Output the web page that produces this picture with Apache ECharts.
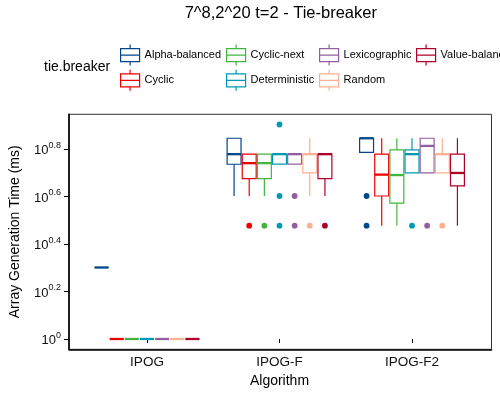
<!DOCTYPE html>
<html><head><meta charset="utf-8">
<script src="https://cdn.jsdelivr.net/npm/echarts@6/dist/echarts.min.js"></script>
<style>html,body{margin:0;padding:0;background:#fff}#c{width:500px;height:400px}</style>
</head><body><div id="c"></div>
<script>
const algorithms = ['IPOG', 'IPOG-F', 'IPOG-F2'];
const tieBreakers = ['Alpha-balanced', 'Cyclic', 'Cyclic-next', 'Deterministic', 'Lexicographic', 'Random', 'Value-balanced'];
const colors = ['#00468B', '#ED0000', '#42B540', '#0099B4', '#925E9F', '#FDAF91', '#AD002A'];

// Five-number summaries in ms [min, q1, median, q3, max], one per algorithm
const alphaBalanced = [[2, 2, 2, 2, 2], [4, 5.44, 6, 7, 7], [6.11, 6.11, 7, 7, 7]];
const cyclic        = [[1, 1, 1, 1, 1], [4, 4.73, 5.5, 6, 6], [3, 4, 4.92, 6, 7]];
const cyclicNext    = [[1, 1, 1, 1, 1], [4, 4.73, 5.5, 6, 6], [3, 3.73, 4.9, 6.25, 7]];
const deterministic = [[1, 1, 1, 1, 1], [5.45, 5.45, 6, 6, 6], [5, 5, 6, 6.25, 7]];
const lexicographic = [[1, 1, 1, 1, 1], [5.45, 5.45, 6, 6, 6], [5, 5, 6.5, 7, 7]];
const random        = [[1, 1, 1, 1, 1], [4, 5, 6, 6, 7], [5, 5, 6, 6, 7]];
const valueBalanced = [[1, 1, 1, 1, 1], [4, 4.73, 6, 6, 6], [3, 4.41, 5, 6, 7]];

// Outliers in ms, one list per algorithm
const alphaBalancedOut = [[], [], [4, 3]];
const cyclicOut        = [[], [3], []];
const cyclicNextOut    = [[], [3], []];
const deterministicOut = [[], [8, 4, 3], [3]];
const lexicographicOut = [[], [4, 3], [3]];
const randomOut        = [[], [3], [3]];
const valueBalancedOut = [[], [3], []];

// y axis ticks (log10 exponents) and their labels
const yTicks = [0, 0.2, 0.4, 0.6, 0.8];
const yTickLabels = ['0', '0.2', '0.4', '0.6', '0.8'];

const summaries = [alphaBalanced, cyclic, cyclicNext, deterministic, lexicographic, random, valueBalanced];
const outliers = [alphaBalancedOut, cyclicOut, cyclicNextOut, deterministicOut, lexicographicOut, randomOut, valueBalancedOut];

const FONT = 'Liberation Sans, Arial, Helvetica, sans-serif';
const GROUP_FRAC = 0.8;
const BOX_FRAC = 0.92;
const N = tieBreakers.length;

function offsetX(api, cat, k) {
  const band = api.size([1, 0])[0];
  const slot = band * GROUP_FRAC / N;
  return { c: api.coord([cat, 0])[0] + (k - (N - 1) / 2) * slot, bw: slot * BOX_FRAC };
}

function boxRenderer(k) {
  return function (params, api) {
    const cat = api.value(0);
    const { c, bw } = offsetX(api, cat, k);
    const ys = [1, 2, 3, 4, 5].map(d => api.coord([cat, api.value(d)])[1]);
    const [yMin, yQ1, yMed, yQ3, yMax] = ys;
    const stroke = colors[k];
    return {
      type: 'group', children: [
        { type: 'line', shape: { x1: c, y1: yMax, x2: c, y2: yQ3 }, style: { stroke, lineWidth: 1.2 } },
        { type: 'line', shape: { x1: c, y1: yQ1, x2: c, y2: yMin }, style: { stroke, lineWidth: 1.2 } },
        { type: 'rect', shape: { x: c - bw / 2, y: yQ3, width: bw, height: yQ1 - yQ3 }, style: { fill: '#fff', stroke, lineWidth: 1.2 } },
        { type: 'line', shape: { x1: c - bw / 2, y1: yMed, x2: c + bw / 2, y2: yMed }, style: { stroke, lineWidth: 2.3 } }
      ]
    };
  };
}

function outlierRenderer(k) {
  return function (params, api) {
    const cat = api.value(0);
    const { c } = offsetX(api, cat, k);
    const y = api.coord([cat, api.value(1)])[1];
    return { type: 'circle', shape: { cx: c, cy: y, r: 2.9 }, style: { fill: colors[k] } };
  };
}

const series = [];
tieBreakers.forEach((name, k) => {
  series.push({
    type: 'custom', name, xAxisIndex: 0, yAxisIndex: 0,
    renderItem: boxRenderer(k),
    encode: { x: 0, y: [1, 2, 3, 4, 5] },
    data: algorithms.map((a, i) => [i].concat(summaries[k][i].map(v => Math.log10(v))))
  });
});
tieBreakers.forEach((name, k) => {
  const pts = [];
  algorithms.forEach((a, i) => outliers[k][i].forEach(v => pts.push([i, Math.log10(v)])));
  series.push({
    type: 'custom', name, xAxisIndex: 0, yAxisIndex: 0,
    renderItem: outlierRenderer(k),
    encode: { x: 0, y: 1 },
    data: pts
  });
});

const ICON = 'path://M9.5,0L9.5,4M0,4L19,4L19,17L0,17ZM0,10.5L19,10.5M9.5,17L9.5,21';
const legendCols = [[0, 1], [2, 3], [4, 5], [6]];
const legendLeft = [120, 226, 319, 416];

const option = {
  animation: false,
  backgroundColor: '#fff',
  textStyle: { fontFamily: FONT },
  title: [
    { text: '7^8,2^20 t=2 - Tie-breaker', left: 280.8, top: 5, textAlign: 'center', padding: 0,
      textStyle: { fontSize: 16.5, fontWeight: 'normal', color: '#000', fontFamily: FONT } },
    { text: 'tie.breaker', left: 44, top: 60, padding: 0,
      textStyle: { fontSize: 14, fontWeight: 'normal', color: '#000', fontFamily: FONT } }
  ],
  legend: legendCols.map((col, i) => ({
    orient: 'vertical', left: legendLeft[i], top: 44, padding: 0,
    itemWidth: 19, itemHeight: 21, itemGap: 3, selectedMode: false,
    textStyle: { fontSize: 11, color: '#000', fontFamily: FONT },
    data: col.map(k => ({ name: tieBreakers[k], icon: ICON,
      itemStyle: { color: '#fff', borderColor: colors[k], borderWidth: 1.2 } }))
  })),
  grid: [
    { left: 80.75, right: 21.75, top: 114.3, bottom: 50.7 },
    { left: 69, right: 8.5, top: 114.3, bottom: 50.7, show: true, borderColor: '#333', borderWidth: 1, backgroundColor: 'transparent' }
  ],
  xAxis: [
    { type: 'category', gridIndex: 0, data: algorithms,
      axisLine: { show: false },
      axisTick: { show: true, alignWithLabel: true, length: 4, lineStyle: { color: '#000', width: 1 } },
      axisLabel: { fontSize: 13.5, color: '#111', margin: 6, fontFamily: FONT },
      splitLine: { show: false },
      name: 'Algorithm', nameLocation: 'middle', nameGap: 24,
      nameTextStyle: { fontSize: 14, color: '#000', fontFamily: FONT } },
    { type: 'value', gridIndex: 1, min: 0, max: 1, show: true,
      axisLine: { show: true, onZero: false, lineStyle: { color: '#000', width: 1.6 } },
      axisTick: { show: false }, axisLabel: { show: false }, splitLine: { show: false } }
  ],
  yAxis: [
    { type: 'value', gridIndex: 0, min: -0.0434, max: 0.946, offset: 11.75,
      axisLine: { show: false },
      axisTick: { show: true, length: 5, customValues: yTicks, lineStyle: { color: '#000', width: 1 } },
      axisLabel: { customValues: yTicks, margin: 8, color: '#111',
        formatter: v => {
          const idx = yTicks.findIndex(t => Math.abs(t - v) < 1e-9);
          return '{b|10}{s|' + (idx >= 0 ? yTickLabels[idx] : '') + '}';
        },
        rich: {
          b: { fontSize: 13, lineHeight: 16, verticalAlign: 'bottom', color: '#111', fontFamily: FONT },
          s: { fontSize: 9, lineHeight: 10, verticalAlign: 'top', color: '#111', fontFamily: FONT }
        } },
      splitLine: { show: false },
      name: 'Array Generation Time (ms)', nameLocation: 'middle', nameGap: 47,
      nameTextStyle: { fontSize: 14, color: '#000', fontFamily: FONT } },
    { type: 'value', gridIndex: 1, min: 0, max: 1, show: true,
      axisLine: { show: true, onZero: false, lineStyle: { color: '#000', width: 1.6 } },
      axisTick: { show: false }, axisLabel: { show: false }, splitLine: { show: false } }
  ],
  series
};

const chart = echarts.init(document.getElementById('c'), null, { renderer: 'canvas' });
chart.setOption(option);
</script></body></html>
